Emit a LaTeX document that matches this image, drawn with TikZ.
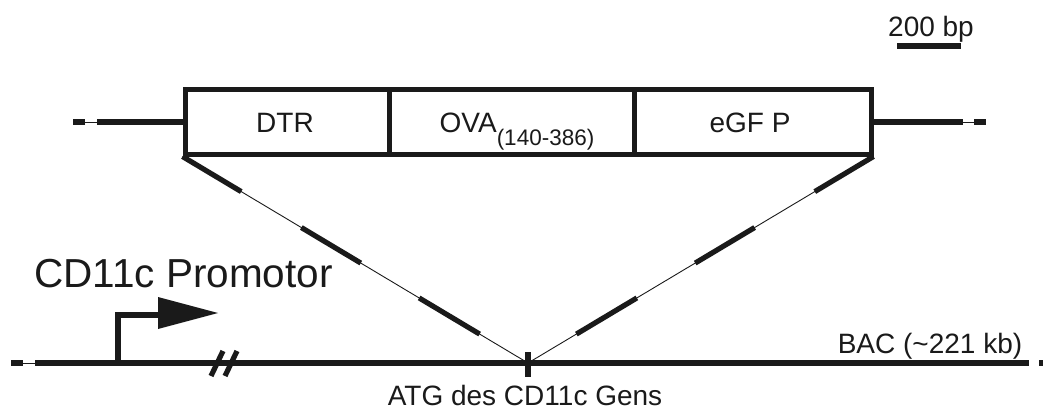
\documentclass[tikz,border=0pt]{standalone}
\usepackage{fontspec}
\setmainfont{Liberation Sans}
\usetikzlibrary{calc}
\definecolor{ink}{RGB}{26,26,26}
\begin{document}
\begin{tikzpicture}[x=1pt,y=-1pt,
  heavy/.style={draw=ink,line width=5.8pt},
  mid/.style={draw=ink,line width=5.2pt},
  fine/.style={draw=ink,line width=0.9pt},
  cell/.style={draw=ink,line width=5pt,minimum height=64pt,inner sep=0pt},
  lbl/.style={text=ink,inner sep=0pt,font=\fontsize{28}{30}\selectfont},
  big/.style={text=ink,inner sep=0pt,font=\fontsize{40.5}{44}\selectfont}]
\useasboundingbox (0,0) rectangle (1045,412);

% construct cassette
\node[cell,minimum width=204pt] (dtr) at (287,122) {};
\node[cell,minimum width=245pt] (ova) at (511.5,122) {};
\node[cell,minimum width=237pt] (egfp) at (752.5,122) {};
\node[lbl,anchor=base] (tdtr) at (285,132) {DTR};
\node[lbl,anchor=base] (tova) at (517,132) {OVA\raisebox{-13pt}{\fontsize{22.5}{24}\selectfont(140-386)}};
\node[lbl,anchor=base] (tegfp) at (750,132) {eGF P};

% flanking arms of the cassette
\coordinate (la1) at (97,122);
\coordinate (la2) at (85,122);
\coordinate (la3) at (73,122);
\coordinate (ra1) at (963,122);
\coordinate (ra2) at (974,122);
\coordinate (ra3) at (986,122);
\draw[mid] (dtr.west) -- (la1);
\draw[fine] (la1) -- (la2);
\draw[mid] (la2) -- (la3);
\draw[mid] (egfp.east) -- (ra1);
\draw[fine] (ra1) -- (ra2);
\draw[mid] (ra2) -- (ra3);

% scale bar
\coordinate (sb1) at (897,46);
\coordinate (sb2) at (961,46);
\draw[heavy] (sb1) -- (sb2);
\node[lbl,anchor=base] (tsb) at (931,37) {200 bp};

% BAC backbone
\coordinate (b0) at (11,363);
\coordinate (b1) at (23,363);
\coordinate (b2) at (35,363);
\coordinate (b3) at (1029,363);
\coordinate (b4) at (1039,363);
\coordinate (b5) at (1043,363);
\draw[heavy] (b0) -- (b1);
\draw[fine] (b1) -- (b2);
\draw[heavy] (b2) -- (b3);
\draw[heavy] (b4) -- (b5);
\node[lbl,anchor=base] (tbac) at (930,353) {BAC (\char"7E 221 kb)};

% start codon
\coordinate (atg) at (528,363);
\coordinate (atgt) at (528,352);
\coordinate (atgb) at (528,377);
\draw[mid] (atgt) -- (atgb);
\node[lbl,anchor=base] (tatg) at (525,405) {ATG des CD11c Gens};

% insertion lines from the cassette to the start codon
\coordinate (bl) at (dtr.south west);
\coordinate (br) at (egfp.south east);
\draw[fine] (bl) -- (atg);
\draw[fine] (br) -- (atg);
\foreach \a/\b in {0/0.17, 0.344/0.516, 0.685/0.86}{
  \draw[mid] ($(bl)!\a!(atg)$) -- ($(bl)!\b!(atg)$);
  \draw[mid] ($(br)!\a!(atg)$) -- ($(br)!\b!(atg)$);
}

% promoter with transcription start arrow
\coordinate (p0) at (118,363);
\coordinate (p1) at (118,315);
\coordinate (p2) at (160,315);
\draw[heavy] (p0) -- (p1) -- (p2);
\fill[ink] (158,297) -- (218,313) -- (158,329) -- cycle;
\node[big,anchor=base west] (tprom) at (34,287) {CD11c Promotor};

% break marks
\coordinate (s1a) at (211,376);
\coordinate (s1b) at (223,351);
\coordinate (s2a) at (225,376);
\coordinate (s2b) at (237,351);
\draw[mid] (s1a) -- (s1b);
\draw[mid] (s2a) -- (s2b);
\end{tikzpicture}
\end{document}
